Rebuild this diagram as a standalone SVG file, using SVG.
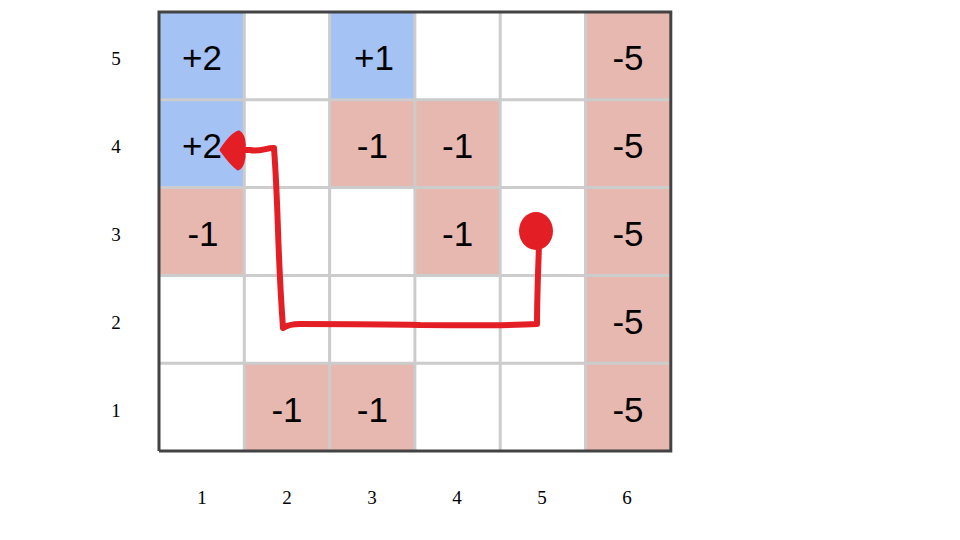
<svg xmlns="http://www.w3.org/2000/svg" width="960" height="540" viewBox="0 0 960 540">
<style>
.blue{fill:#a4c2f4}
.pink{fill:#e6b8af}
.cv{font-family:"Liberation Sans",Arial,sans-serif;font-size:35px;fill:#000;text-anchor:middle;dominant-baseline:central}
.lab{font-family:"Liberation Serif","Times New Roman",serif;font-size:19px;fill:#000;text-anchor:middle;dominant-baseline:central}
.grid{stroke:#cccccc;stroke-width:3;fill:none}
.border{stroke:#434343;stroke-width:3;fill:none}
.path{stroke:#e31e24;stroke-width:6;fill:none;stroke-linecap:round;stroke-linejoin:round}
</style>
<rect width="960" height="540" fill="#ffffff"/>
<g id="cells">
<g id="c1r5"><rect class="blue" x="159" y="12" width="85.3" height="87.8"/><text class="cv" x="202" y="57">+2</text></g>
<g id="c3r5"><rect class="blue" x="329.6" y="12" width="85.3" height="87.8"/><text class="cv" x="374" y="57">+1</text></g>
<g id="c6r5"><rect class="pink" x="585.5" y="12" width="85.3" height="87.8"/><text class="cv" x="628" y="57">-5</text></g>
<g id="c1r4"><rect class="blue" x="159" y="99.8" width="85.3" height="87.8"/><text class="cv" x="202" y="145">+2</text></g>
<g id="c3r4"><rect class="pink" x="329.6" y="99.8" width="85.3" height="87.8"/><text class="cv" x="372.3" y="145">-1</text></g>
<g id="c4r4"><rect class="pink" x="414.9" y="99.8" width="85.3" height="87.8"/><text class="cv" x="457.6" y="145">-1</text></g>
<g id="c6r4"><rect class="pink" x="585.5" y="99.8" width="85.3" height="87.8"/><text class="cv" x="628" y="145">-5</text></g>
<g id="c1r3"><rect class="pink" x="159" y="187.6" width="85.3" height="87.8"/><text class="cv" x="203" y="233">-1</text></g>
<g id="c4r3"><rect class="pink" x="414.9" y="187.6" width="85.3" height="87.8"/><text class="cv" x="457.6" y="233">-1</text></g>
<g id="c6r3"><rect class="pink" x="585.5" y="187.6" width="85.3" height="87.8"/><text class="cv" x="628" y="233">-5</text></g>
<g id="c6r2"><rect class="pink" x="585.5" y="275.4" width="85.3" height="87.8"/><text class="cv" x="628" y="321">-5</text></g>
<g id="c2r1"><rect class="pink" x="244.3" y="363.2" width="85.3" height="87.8"/><text class="cv" x="287" y="409">-1</text></g>
<g id="c3r1"><rect class="pink" x="329.6" y="363.2" width="85.3" height="87.8"/><text class="cv" x="372.3" y="409">-1</text></g>
<g id="c6r1"><rect class="pink" x="585.5" y="363.2" width="85.3" height="87.8"/><text class="cv" x="628" y="409">-5</text></g>
</g>
<g id="gridlines">
<path class="grid" d="M244.3 12V451M329.6 12V451M414.9 12V451M500.2 12V451M585.5 12V451M159 99.8H670.8M159 187.6H670.8M159 275.4H670.8M159 363.2H670.8"/>
<path class="border" d="M159 451V12H670.8V451H159"/>
</g>
<g id="row-labels">
<text class="lab" x="116" y="58">5</text>
<text class="lab" x="116" y="146">4</text>
<text class="lab" x="116" y="234">3</text>
<text class="lab" x="116" y="322">2</text>
<text class="lab" x="116" y="410">1</text>
</g>
<g id="col-labels">
<text class="lab" x="202" y="497">1</text>
<text class="lab" x="287" y="497">2</text>
<text class="lab" x="372" y="497">3</text>
<text class="lab" x="457" y="497">4</text>
<text class="lab" x="542" y="497">5</text>
<text class="lab" x="627" y="497">6</text>
</g>
<g id="connectors">
<ellipse cx="536" cy="231" rx="17" ry="19" fill="#e31e24"/>
<path class="path" d="M539 245C538 275 537 300 537 324C500 326 460 325 420 325C380 324 340 324 300 324C292 324 286 326 283 328C281 300 279 260 278 230C277 200 276 175 274 148C265 148 260 152 250 150L238 150"/>
<path d="M221 150C227 141 233 133 239 132C244 135 245 144 244 151C245 160 242 167 238 169C232 165 226 157 221 150Z" fill="#e31e24" stroke="#e31e24" stroke-width="3" stroke-linejoin="round"/>
</g>
</svg>
